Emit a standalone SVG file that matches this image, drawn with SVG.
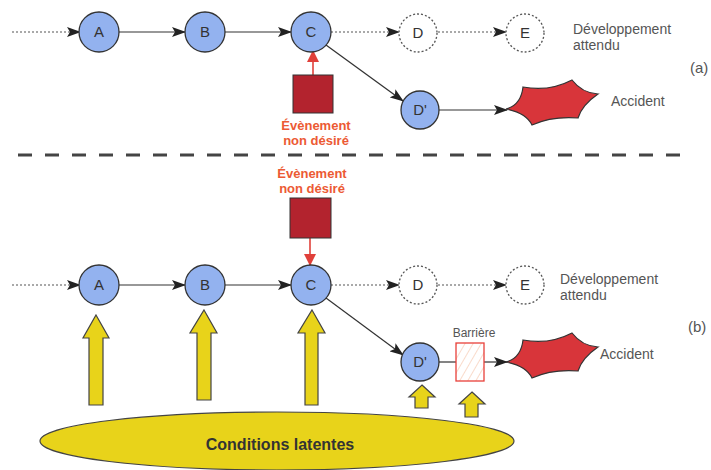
<svg xmlns="http://www.w3.org/2000/svg" width="711" height="470" viewBox="0 0 711 470">
<style>
.node{fill:#93b2ef;stroke:#333;stroke-width:1.3}
.dnode{fill:#fff;stroke:#555;stroke-width:1.3;stroke-dasharray:2 2}
.lbl{font-family:"Liberation Sans",Arial,sans-serif;font-size:15px;fill:#333;text-anchor:middle}
.txt{font-family:"Liberation Sans",Arial,sans-serif;font-size:14px;fill:#555}
.red{font-family:"Liberation Sans",Arial,sans-serif;font-size:13px;font-weight:bold;fill:#ec5a34;text-anchor:middle}
.line{stroke:#333;stroke-width:1.2;fill:none}
.dot{stroke:#555;stroke-width:1.2;fill:none;stroke-dasharray:2 2}
.rline{stroke:#e0403a;stroke-width:1.6;fill:none}
.sq{fill:#b3232e;stroke:#333;stroke-width:1}
.star{fill:#d8353a;stroke:#333;stroke-width:1.2}
.yel{fill:#e8d31a;stroke:#444;stroke-width:1.2}
</style>
<defs>
<marker id="ah" markerWidth="14" markerHeight="10" refX="13" refY="5" orient="auto" markerUnits="userSpaceOnUse">
<path d="M0,0 L14,5 L0,10 L3,5 Z" fill="#222"/>
</marker>
<marker id="rah" markerWidth="12" markerHeight="12" refX="11" refY="6" orient="auto" markerUnits="userSpaceOnUse">
<path d="M0,0 L12,6 L0,12 Z" fill="#e0403a"/>
</marker>
<pattern id="hatch" width="7" height="7" patternUnits="userSpaceOnUse" patternTransform="rotate(30)">
<rect width="7" height="7" fill="#fff"/>
<line x1="0" y1="0" x2="0" y2="7" stroke="#f6c3a8" stroke-width="1.2"/>
</pattern>
<path id="starShape" d="M506,109 Q521,105 523,87 Q549,92 572,80 Q582,93 598,94 Q582,105 578,118 Q552,116 532,125 Q526,113 506,109 Z"/>
</defs>

<!-- separator -->
<line x1="18" y1="155" x2="692" y2="155" stroke="#444" stroke-width="3" stroke-dasharray="14 13"/>

<g id="connectors">
<!-- (a) -->
<line class="dot" x1="12" y1="32" x2="80" y2="32" marker-end="url(#ah)"/>
<line class="line" x1="119" y1="32" x2="185" y2="32" marker-end="url(#ah)"/>
<line class="line" x1="225" y1="32" x2="291" y2="32" marker-end="url(#ah)"/>
<line class="dot" x1="331" y1="32" x2="399" y2="32" marker-end="url(#ah)"/>
<line class="dot" x1="438" y1="32" x2="506" y2="32" marker-end="url(#ah)"/>
<line class="line" x1="326" y1="45" x2="403" y2="101" marker-end="url(#ah)"/>
<line class="line" x1="439" y1="110" x2="507" y2="110" marker-end="url(#ah)"/>
<line class="rline" x1="313" y1="75" x2="313" y2="51" marker-end="url(#rah)"/>
<!-- (b) -->
<line class="dot" x1="12" y1="285" x2="80" y2="285" marker-end="url(#ah)"/>
<line class="line" x1="119" y1="285" x2="185" y2="285" marker-end="url(#ah)"/>
<line class="line" x1="225" y1="285" x2="291" y2="285" marker-end="url(#ah)"/>
<line class="dot" x1="331" y1="285" x2="399" y2="285" marker-end="url(#ah)"/>
<line class="dot" x1="438" y1="285" x2="506" y2="285" marker-end="url(#ah)"/>
<line class="line" x1="326" y1="298" x2="403" y2="355" marker-end="url(#ah)"/>
<line class="line" x1="439" y1="362" x2="456" y2="362"/>
<line class="line" x1="484" y1="362" x2="507" y2="362" marker-end="url(#ah)"/>
<line class="rline" x1="310" y1="238" x2="310" y2="265" marker-end="url(#rah)"/>
</g>

<!-- (a) nodes -->
<g id="a-A"><circle class="node" cx="99" cy="32" r="20"/><text class="lbl" x="99" y="37">A</text></g>
<g id="a-B"><circle class="node" cx="205" cy="32" r="20"/><text class="lbl" x="205" y="37">B</text></g>
<g id="a-C"><circle class="node" cx="311" cy="32" r="20"/><text class="lbl" x="311" y="37">C</text></g>
<g id="a-D"><circle class="dnode" cx="418" cy="33" r="19"/><text class="lbl" x="418" y="38">D</text></g>
<g id="a-E"><circle class="dnode" cx="525" cy="33" r="19"/><text class="lbl" x="525" y="38">E</text></g>
<g id="a-dev"><text class="txt" x="573" y="34">Développement</text><text class="txt" x="573" y="50">attendu</text></g>
<g id="a-label"><text class="txt" x="690" y="73" style="font-size:15px">(a)</text></g>
<g id="a-Dp"><circle class="node" cx="420" cy="110" r="19"/><text class="lbl" x="420" y="115">D'</text></g>
<g id="a-accident"><use href="#starShape" class="star"/><text class="txt" x="611" y="106">Accident</text></g>
<g id="a-event"><rect class="sq" x="293" y="75" width="40" height="38"/><text class="red" x="316" y="130">Évènement</text><text class="red" x="316" y="145">non désiré</text></g>

<!-- (b) nodes -->
<g id="b-event"><text class="red" x="312" y="178">Évènement</text><text class="red" x="312" y="193">non désiré</text><rect class="sq" x="290" y="198" width="41" height="40"/></g>
<g id="b-A"><circle class="node" cx="99" cy="285" r="20"/><text class="lbl" x="99" y="290">A</text></g>
<g id="b-B"><circle class="node" cx="205" cy="285" r="20"/><text class="lbl" x="205" y="290">B</text></g>
<g id="b-C"><circle class="node" cx="311" cy="285" r="20"/><text class="lbl" x="311" y="290">C</text></g>
<g id="b-D"><circle class="dnode" cx="418" cy="285" r="19"/><text class="lbl" x="418" y="290">D</text></g>
<g id="b-E"><circle class="dnode" cx="525" cy="285" r="19"/><text class="lbl" x="525" y="290">E</text></g>
<g id="b-dev"><text class="txt" x="560" y="284">Développement</text><text class="txt" x="560" y="300">attendu</text></g>
<g id="b-label"><text class="txt" x="688" y="332" style="font-size:15px">(b)</text></g>
<g id="b-Dp"><circle class="node" cx="420" cy="362" r="19"/><text class="lbl" x="420" y="367">D'</text></g>
<g id="b-barrier"><text class="txt" x="474" y="337" style="font-size:12px" text-anchor="middle">Barrière</text><rect x="456" y="343" width="28" height="38" fill="url(#hatch)" stroke="#e8403a" stroke-width="1.3"/></g>
<g id="b-accident"><use href="#starShape" class="star" transform="translate(0,253)"/><text class="txt" x="600" y="359">Accident</text></g>

<!-- latent conditions -->
<g id="arrows-yellow">
<polygon class="yel" points="96,315 109,338 103,338 103,405 89,405 89,338 83,338"/>
<polygon class="yel" points="204,310 217,333 211,333 211,400 197,400 197,333 190,333"/>
<polygon class="yel" points="312,310 325,333 318,333 318,405 305,405 305,333 298,333"/>
<polygon class="yel" points="422,385 435,397 428,397 428,408 415,408 415,397 409,397"/>
<polygon class="yel" points="472,392 485,404 478,404 478,417 465,417 465,404 459,404"/>
</g>
<g id="latent"><ellipse class="yel" cx="277" cy="441" rx="237" ry="29"/><text x="280" y="450" style="font-family:'Liberation Sans',Arial,sans-serif;font-size:16px;font-weight:bold;fill:#333" text-anchor="middle">Conditions latentes</text></g>
</svg>
